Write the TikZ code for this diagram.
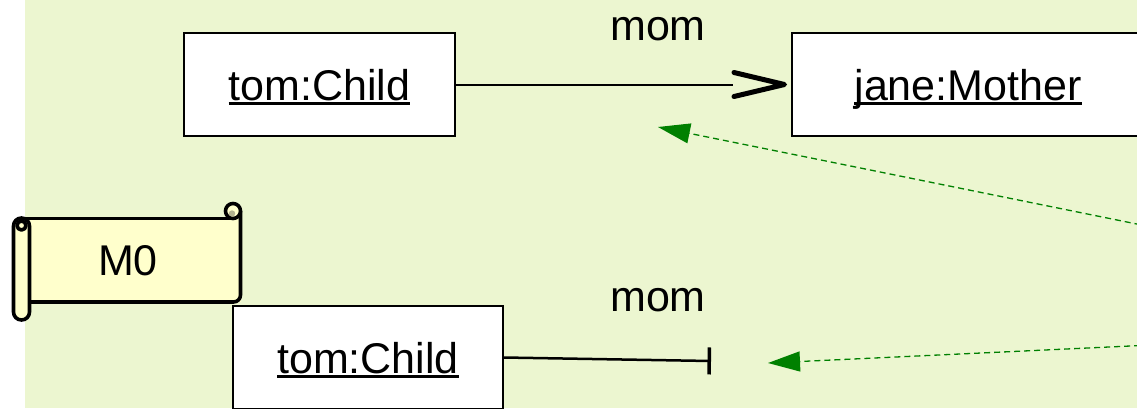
\documentclass[tikz,border=0pt]{standalone}
\usepackage{fontspec}
\setmainfont{Liberation Sans}
\usetikzlibrary{arrows.meta}
\definecolor{bggreen}{RGB}{236,246,208}
\definecolor{scrollyellow}{RGB}{255,255,204}
\definecolor{dgreen}{RGB}{0,128,0}
\newcommand\ulbox[1]{\setbox0\hbox{#1}\rlap{\rule[-4.5pt]{\wd0}{2.2pt}}\box0}
\begin{document}
\begin{tikzpicture}[x=1pt,y=-1pt,
  obj/.style={draw=black, line width=2pt, fill=white, minimum width=#1, minimum height=103pt,
    inner sep=0pt, text height=31pt, text depth=0pt, font=\fontsize{43}{50}\selectfont},
  lbl/.style={font=\fontsize{43}{50}\selectfont, inner sep=0pt, anchor=base},
  dep/.style={draw=dgreen, line width=1.3pt, dash pattern=on 6pt off 4pt,
    -{Triangle[length=32pt,width=20pt,fill=dgreen]}},
  scrollline/.style={line width=3.6pt, line join=round, draw=black}]
\useasboundingbox (0,0) rectangle (1137,408);
\clip (0,0) rectangle (1137,408);
\fill[white] (0,0) rectangle (1137,408);
\fill[bggreen] (25,0) rectangle (1137,408);

% objects
\node[obj=271pt] (c1) at (319.5,84.5) {\ulbox{tom:Child}};
\node[obj=352pt] (m1) at (968,84.5) {\ulbox{jane:Mother}};
\node[obj=270pt] (c2) at (368,357.5) {\ulbox{tom:Child}};

% labels
\node[lbl] (mom1) at (658,40) {mom};
\node[lbl] (mom2) at (658,311) {mom};

% top association with open arrow head
\coordinate (h1) at ([xshift=-58pt]m1.west);
\draw[line width=2pt] (c1.east) -- (h1);
\draw[line width=5pt, line cap=round, line join=round]
  ([shift={(-57pt,12pt)}]m1.west) -- ([xshift=-6.5pt]m1.west) -- ([shift={(-57pt,-12pt)}]m1.west);

% bottom association ending in a bar
\coordinate (b1) at (711,361);
\draw[line width=2.5pt, -{Bar[width=27pt,line width=3.5pt]}] (c2.east) -- (b1);

% green dashed dependencies
\coordinate (g1) at (658,127);
\coordinate (g1e) at (1160,228.7);
\draw[dep] (g1e) -- (g1);
\coordinate (g2) at (768,363);
\coordinate (g2e) at (1160,344.6);
\draw[dep] (g2e) -- (g2);

% scroll M0
\fill[scrollyellow] (22,218.5) -- (240.5,218.5) -- (240.5,302) -- (22,302) -- cycle;
\draw[scrollline] (233,218.5) -- (22,218.5);
\draw[scrollline, rounded corners=7pt] (240.5,211) -- (240.5,302) -- (25,302);
\filldraw[scrollline, fill=scrollyellow] (233,211) circle[radius=7.5pt];
\fill[black!30!scrollyellow] (232,213.5) circle[radius=3.2pt];
\filldraw[scrollline, fill=scrollyellow, rounded corners=8pt] (13.5,218) rectangle (29.5,320);
\draw[scrollline] (21.5,225.5) circle[radius=4.5pt];
\node[lbl] (m0) at (128,275) {M0};
\end{tikzpicture}
\end{document}
